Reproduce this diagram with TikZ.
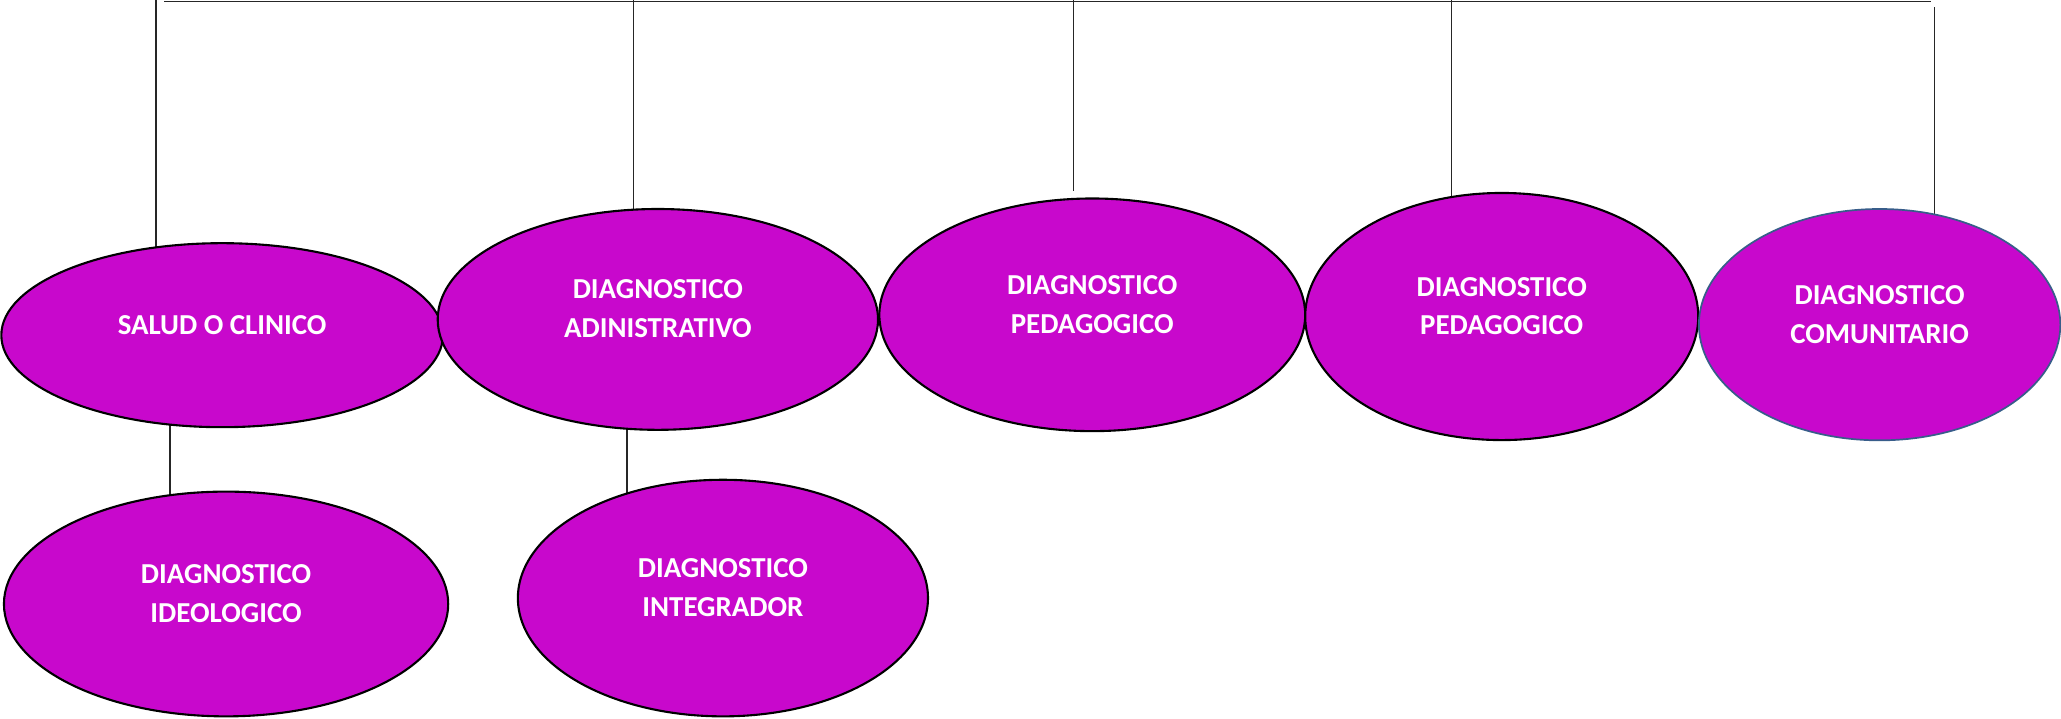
\documentclass[tikz,border=0pt]{standalone}
\usepackage{fontspec}
\setmainfont{Carlito}
\usetikzlibrary{shapes.geometric,backgrounds,calc}
\definecolor{diagfill}{RGB}{200,8,204}
\definecolor{diagblue}{RGB}{56,93,138}
\tikzset{
  diag/.style={ellipse, draw=black, line width=1.6pt, fill=diagfill, inner sep=0pt,
    text=white, align=center, text depth=16pt,
    font=\bfseries\fontsize{22}{29.6}\selectfont},
  conn/.style={draw=black!85, line width=0.9pt}
}
\begin{document}
\begin{tikzpicture}[x=1pt,y=-1pt]
    \useasboundingbox (0,0) rectangle (1568,547);
    % upper row
    \node[diag, minimum width=336pt, minimum height=140pt] at (169,255) (salud) {SALUD O CLINICO};
    \node[diag, minimum width=335pt, minimum height=168pt] at (500.5,243) (admin) {DIAGNOSTICO\\ADINISTRATIVO};
    \node[diag, minimum width=324pt, minimum height=177pt] at (831,239.5) (ped1) {DIAGNOSTICO\\PEDAGOGICO};
    \node[diag, minimum width=299pt, minimum height=188pt] at (1142.5,240.8) (ped2) {DIAGNOSTICO\\PEDAGOGICO};
    \node[diag, draw=diagblue, line width=1.3pt, minimum width=275pt, minimum height=176pt] at (1430,247) (comun) {DIAGNOSTICO\\COMUNITARIO};
    % lower row
    \node[diag, minimum width=338pt, minimum height=171pt] at (172,459.5) (ideo) {DIAGNOSTICO\\IDEOLOGICO};
    \node[diag, minimum width=312pt, minimum height=180pt] at (550,455) (integ) {DIAGNOSTICO\\INTEGRADOR};
    % top bar
    \coordinate (h0) at (125,1);
    \coordinate (h1) at (1469,1);
    \coordinate (v1) at (118.7,0);
    \coordinate (v2) at (482,0);
    \coordinate (v3) at (817,0);
    \coordinate (v4) at (1104.5,0);
    \coordinate (v5) at (1471.5,5.6);
    \coordinate (b1) at ([xshift=-39.7pt]salud.center);
    \coordinate (b2) at ([xshift=-23.5pt]admin.center);
    \begin{scope}[on background layer]
      \draw[conn, line width=1.1pt] (h0) -- (h1);
      \draw[conn] (v1) -- (v1 |- salud.center);
      \draw[conn] (v2) -- (v2 |- admin.center);
      \draw[conn] (v3) -- ($(v3 |- ped1.north)+(0,-5)$);
      \draw[conn] (v4) -- (v4 |- ped2.center);
      \draw[conn] (v5) -- (v5 |- comun.center);
      \draw[conn] (b1) -- (b1 |- ideo.center);
      \draw[conn] (b2) -- (b2 |- integ.center);
    \end{scope}
\end{tikzpicture}
\end{document}
